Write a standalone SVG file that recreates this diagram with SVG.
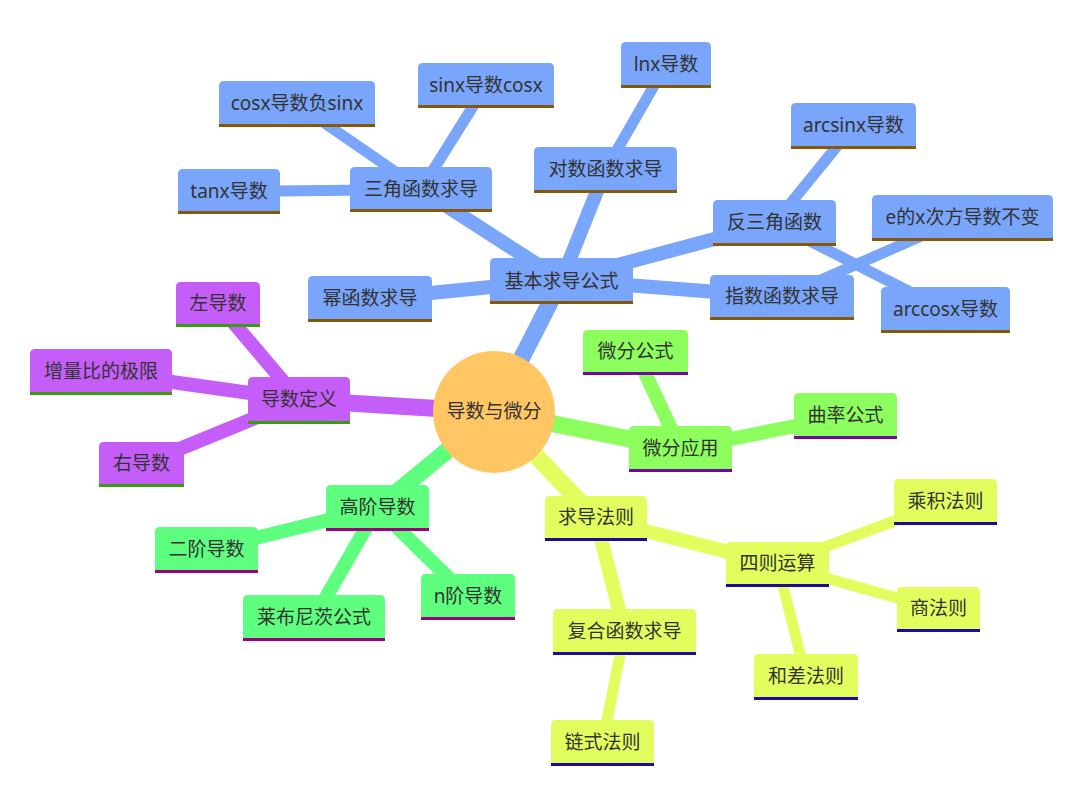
<svg xmlns="http://www.w3.org/2000/svg" width="1080" height="792" viewBox="0 0 1080 792">
<style>
text{font-family:"Noto Sans","Noto Sans CJK SC",sans-serif;font-size:19px;fill:#333;text-anchor:middle;dominant-baseline:central}
.e{fill:none;stroke-linecap:butt}
.d0{stroke-width:17}.d1{stroke-width:14}.d2{stroke-width:11}
.c0{stroke:#79A5FA}.c1{stroke:#C55EF8}.c2{stroke:#8CFE5E}.c3{stroke:#E2FE5E}.c4{stroke:#5EFE7E}
.f0{fill:#79A5FA}.f1{fill:#C55EF8}.f2{fill:#8CFE5E}.f3{fill:#E2FE5E}.f4{fill:#5EFE7E}
.b0{stroke:#86590A;stroke-width:3}.b1{stroke:#3A9A12;stroke-width:3}.b2{stroke:#6E0AA0;stroke-width:3}.b3{stroke:#1D0AA0;stroke-width:3}.b4{stroke:#A0007F;stroke-width:3}
</style>
<rect width="1080" height="792" fill="#fff"/>
<g id="connectors">
<line class="e d0 c0" x1="494" y1="412" x2="561.5" y2="280"/>
<line class="e d1 c0" x1="561.5" y1="280" x2="370" y2="299"/>
<line class="e d1 c0" x1="561.5" y1="280" x2="421" y2="189.5"/>
<line class="e d1 c0" x1="561.5" y1="280" x2="605.5" y2="170"/>
<line class="e d1 c0" x1="561.5" y1="280" x2="774.5" y2="223"/>
<line class="e d1 c0" x1="561.5" y1="280" x2="782" y2="297"/>
<line class="e d2 c0" x1="421" y1="189.5" x2="229" y2="191.5"/>
<line class="e d2 c0" x1="421" y1="189.5" x2="297" y2="104"/>
<line class="e d2 c0" x1="421" y1="189.5" x2="486" y2="85.5"/>
<line class="e d2 c0" x1="605.5" y1="170" x2="666" y2="65"/>
<line class="e d2 c0" x1="774.5" y1="223" x2="853.5" y2="126"/>
<line class="e d2 c0" x1="774.5" y1="223" x2="945.5" y2="310"/>
<line class="e d2 c0" x1="782" y1="297" x2="962.5" y2="218"/>
<line class="e d0 c1" x1="494" y1="412" x2="299" y2="400"/>
<line class="e d1 c1" x1="299" y1="400" x2="218" y2="304.5"/>
<line class="e d1 c1" x1="299" y1="400" x2="101" y2="372"/>
<line class="e d1 c1" x1="299" y1="400" x2="141.5" y2="464.5"/>
<line class="e d0 c2" x1="494" y1="412" x2="680.5" y2="449"/>
<line class="e d1 c2" x1="680.5" y1="449" x2="635.5" y2="352.5"/>
<line class="e d1 c2" x1="680.5" y1="449" x2="845.5" y2="416"/>
<line class="e d0 c3" x1="494" y1="412" x2="596" y2="518.5"/>
<line class="e d1 c3" x1="596" y1="518.5" x2="777.5" y2="564.5"/>
<line class="e d1 c3" x1="596" y1="518.5" x2="624.5" y2="632"/>
<line class="e d2 c3" x1="777.5" y1="564.5" x2="945.5" y2="502"/>
<line class="e d2 c3" x1="777.5" y1="564.5" x2="938.5" y2="609.5"/>
<line class="e d2 c3" x1="777.5" y1="564.5" x2="806" y2="677"/>
<line class="e d2 c3" x1="624.5" y1="632" x2="602.5" y2="743"/>
<line class="e d0 c4" x1="494" y1="412" x2="377.5" y2="508"/>
<line class="e d1 c4" x1="377.5" y1="508" x2="206.5" y2="550"/>
<line class="e d1 c4" x1="377.5" y1="508" x2="314" y2="618"/>
<line class="e d1 c4" x1="377.5" y1="508" x2="468" y2="597"/>
</g>
<g id="root"><circle cx="494" cy="412" r="61" fill="#FFC663"/><text x="494" y="411">导数与微分</text></g>
<g id="n-jiben"><path class="f0" d="M490,304 V263 Q490,258 495,258 H628 Q633,258 633,263 V304 Z"/><line class="b0" x1="490" y1="302.5" x2="633" y2="302.5"/><text x="561.5" y="281">基本求导公式</text></g>
<g id="n-mi"><path class="f0" d="M308,322 V281 Q308,276 313,276 H427 Q432,276 432,281 V322 Z"/><line class="b0" x1="308" y1="320.5" x2="432" y2="320.5"/><text x="370" y="298">幂函数求导</text></g>
<g id="n-sanjiao"><path class="f0" d="M350,212 V172 Q350,167 355,167 H487 Q492,167 492,172 V212 Z"/><line class="b0" x1="350" y1="210.5" x2="492" y2="210.5"/><text x="421" y="189">三角函数求导</text></g>
<g id="n-tanx"><path class="f0" d="M178,214 V174 Q178,169 183,169 H275 Q280,169 280,174 V214 Z"/><line class="b0" x1="178" y1="212.5" x2="280" y2="212.5"/><text x="229" y="191">tanx导数</text></g>
<g id="n-cosx"><path class="f0" d="M219,127 V86 Q219,81 224,81 H370 Q375,81 375,86 V127 Z"/><line class="b0" x1="219" y1="125.5" x2="375" y2="125.5"/><text x="297" y="103">cosx导数负sinx</text></g>
<g id="n-sinx"><path class="f0" d="M418,108 V68 Q418,63 423,63 H549 Q554,63 554,68 V108 Z"/><line class="b0" x1="418" y1="106.5" x2="554" y2="106.5"/><text x="486" y="85">sinx导数cosx</text></g>
<g id="n-lnx"><path class="f0" d="M621,88 V47 Q621,42 626,42 H706 Q711,42 711,47 V88 Z"/><line class="b0" x1="621" y1="86.5" x2="711" y2="86.5"/><text x="666" y="64">lnx导数</text></g>
<g id="n-duishu"><path class="f0" d="M534,193 V152 Q534,147 539,147 H672 Q677,147 677,152 V193 Z"/><line class="b0" x1="534" y1="191.5" x2="677" y2="191.5"/><text x="605.5" y="169">对数函数求导</text></g>
<g id="n-fansanjiao"><path class="f0" d="M713,246 V205 Q713,200 718,200 H831 Q836,200 836,205 V246 Z"/><line class="b0" x1="713" y1="244.5" x2="836" y2="244.5"/><text x="774.5" y="222">反三角函数</text></g>
<g id="n-arcsinx"><path class="f0" d="M791,149 V108 Q791,103 796,103 H911 Q916,103 916,108 V149 Z"/><line class="b0" x1="791" y1="147.5" x2="916" y2="147.5"/><text x="853.5" y="125">arcsinx导数</text></g>
<g id="n-ex"><path class="f0" d="M872,241 V200 Q872,195 877,195 H1048 Q1053,195 1053,200 V241 Z"/><line class="b0" x1="872" y1="239.5" x2="1053" y2="239.5"/><text x="962.5" y="217">e的x次方导数不变</text></g>
<g id="n-zhishu"><path class="f0" d="M710,320 V280 Q710,275 715,275 H849 Q854,275 854,280 V320 Z"/><line class="b0" x1="710" y1="318.5" x2="854" y2="318.5"/><text x="782" y="296">指数函数求导</text></g>
<g id="n-arccosx"><path class="f0" d="M881,333 V292 Q881,287 886,287 H1005 Q1010,287 1010,292 V333 Z"/><line class="b0" x1="881" y1="331.5" x2="1010" y2="331.5"/><text x="945.5" y="309">arccosx导数</text></g>
<g id="n-dingyi"><path class="f1" d="M248,424 V382 Q248,377 253,377 H345 Q350,377 350,382 V424 Z"/><line class="b1" x1="248" y1="422.5" x2="350" y2="422.5"/><text x="299" y="399">导数定义</text></g>
<g id="n-zuo"><path class="f1" d="M176,327 V287 Q176,282 181,282 H255 Q260,282 260,287 V327 Z"/><line class="b1" x1="176" y1="325.5" x2="260" y2="325.5"/><text x="218" y="303">左导数</text></g>
<g id="n-zengliang"><path class="f1" d="M30,395 V354 Q30,349 35,349 H167 Q172,349 172,354 V395 Z"/><line class="b1" x1="30" y1="393.5" x2="172" y2="393.5"/><text x="101" y="371">增量比的极限</text></g>
<g id="n-you"><path class="f1" d="M99,487 V447 Q99,442 104,442 H179 Q184,442 184,447 V487 Z"/><line class="b1" x1="99" y1="485.5" x2="184" y2="485.5"/><text x="141.5" y="463">右导数</text></g>
<g id="n-weiyy"><path class="f2" d="M629,472 V431 Q629,426 634,426 H727 Q732,426 732,431 V472 Z"/><line class="b2" x1="629" y1="470.5" x2="732" y2="470.5"/><text x="680.5" y="448">微分应用</text></g>
<g id="n-weigs"><path class="f2" d="M583,375 V335 Q583,330 588,330 H683 Q688,330 688,335 V375 Z"/><line class="b2" x1="583" y1="373.5" x2="688" y2="373.5"/><text x="635.5" y="351">微分公式</text></g>
<g id="n-qulv"><path class="f2" d="M794,439 V398 Q794,393 799,393 H892 Q897,393 897,398 V439 Z"/><line class="b2" x1="794" y1="437.5" x2="897" y2="437.5"/><text x="845.5" y="415">曲率公式</text></g>
<g id="n-qiudao"><path class="f3" d="M545,541 V501 Q545,496 550,496 H642 Q647,496 647,501 V541 Z"/><line class="b3" x1="545" y1="539.5" x2="647" y2="539.5"/><text x="596" y="517">求导法则</text></g>
<g id="n-sizhe"><path class="f3" d="M726,587 V547 Q726,542 731,542 H824 Q829,542 829,547 V587 Z"/><line class="b3" x1="726" y1="585.5" x2="829" y2="585.5"/><text x="777.5" y="563">四则运算</text></g>
<g id="n-chengji"><path class="f3" d="M894,525 V484 Q894,479 899,479 H992 Q997,479 997,484 V525 Z"/><line class="b3" x1="894" y1="523.5" x2="997" y2="523.5"/><text x="945.5" y="501">乘积法则</text></g>
<g id="n-shang"><path class="f3" d="M897,632 V592 Q897,587 902,587 H975 Q980,587 980,592 V632 Z"/><line class="b3" x1="897" y1="630.5" x2="980" y2="630.5"/><text x="938.5" y="608">商法则</text></g>
<g id="n-hecha"><path class="f3" d="M754,700 V659 Q754,654 759,654 H853 Q858,654 858,659 V700 Z"/><line class="b3" x1="754" y1="698.5" x2="858" y2="698.5"/><text x="806" y="676">和差法则</text></g>
<g id="n-fuhe"><path class="f3" d="M553,655 V614 Q553,609 558,609 H691 Q696,609 696,614 V655 Z"/><line class="b3" x1="553" y1="653.5" x2="696" y2="653.5"/><text x="624.5" y="631">复合函数求导</text></g>
<g id="n-lianshi"><path class="f3" d="M551,766 V725 Q551,720 556,720 H649 Q654,720 654,725 V766 Z"/><line class="b3" x1="551" y1="764.5" x2="654" y2="764.5"/><text x="602.5" y="742">链式法则</text></g>
<g id="n-gaojie"><path class="f4" d="M326,531 V490 Q326,485 331,485 H424 Q429,485 429,490 V531 Z"/><line class="b4" x1="326" y1="529.5" x2="429" y2="529.5"/><text x="377.5" y="507">高阶导数</text></g>
<g id="n-erjie"><path class="f4" d="M155,573 V532 Q155,527 160,527 H253 Q258,527 258,532 V573 Z"/><line class="b4" x1="155" y1="571.5" x2="258" y2="571.5"/><text x="206.5" y="549">二阶导数</text></g>
<g id="n-laibu"><path class="f4" d="M243,641 V600 Q243,595 248,595 H380 Q385,595 385,600 V641 Z"/><line class="b4" x1="243" y1="639.5" x2="385" y2="639.5"/><text x="314" y="617">莱布尼茨公式</text></g>
<g id="n-njie"><path class="f4" d="M421,620 V579 Q421,574 426,574 H510 Q515,574 515,579 V620 Z"/><line class="b4" x1="421" y1="618.5" x2="515" y2="618.5"/><text x="468" y="596">n阶导数</text></g>
</svg>
